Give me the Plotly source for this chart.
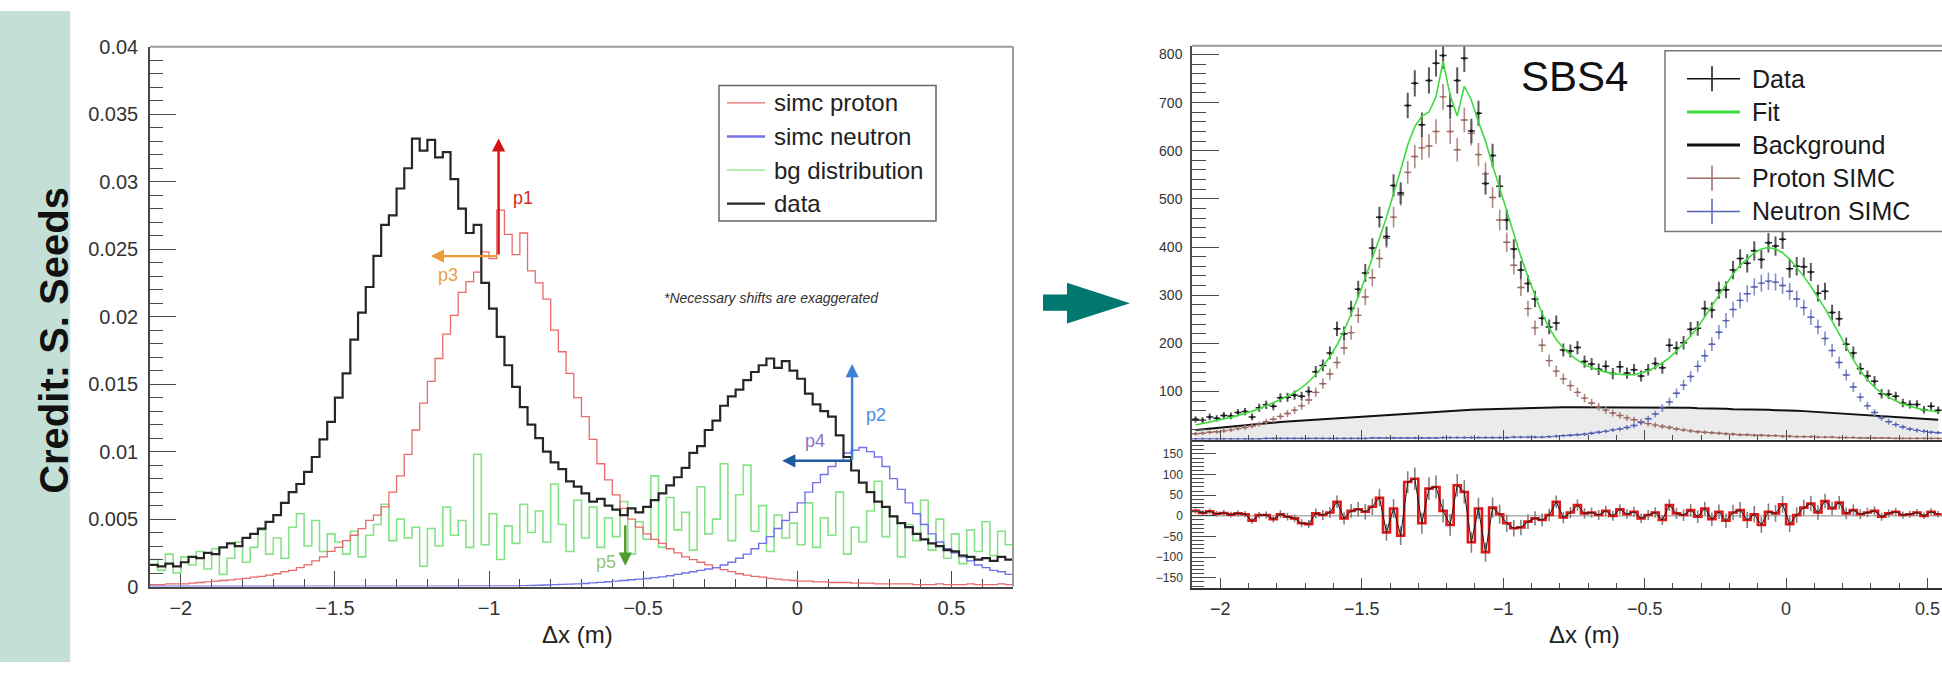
import numpy as np
import plotly.graph_objects as go

W, H = 1942, 673
FONT = "Liberation Sans, Arial, Helvetica, sans-serif"

# ---------------------------------------------------------------------------
# Left panel: simulated proton / neutron shapes, background and data
# (normalised counts, 0.025 m bins starting at -2.1 m)
# ---------------------------------------------------------------------------
LEFT_X0, LEFT_BW = -2.1, 0.025

left_data = [
    0.0016, 0.0015, 0.0017, 0.0015, 0.0018, 0.0022, 0.0021, 0.0025, 0.0024, 0.0029,
    0.0032, 0.0030, 0.0036, 0.0039, 0.0043, 0.0048, 0.0053, 0.0062, 0.0070, 0.0076,
    0.0085, 0.0096, 0.0109, 0.0122, 0.0140, 0.0158, 0.0183, 0.0203, 0.0222, 0.0245,
    0.0268, 0.0275, 0.0295, 0.0310, 0.0332, 0.0323, 0.0331, 0.0318, 0.0322, 0.0302,
    0.0280, 0.0262, 0.0268, 0.0225, 0.0206, 0.0185, 0.0164, 0.0148, 0.0133, 0.0120,
    0.0110, 0.0100, 0.0092, 0.0087, 0.0078, 0.0074, 0.0069, 0.0063, 0.0065, 0.0060,
    0.0057, 0.0053, 0.0058, 0.0055, 0.0059, 0.0064, 0.0069, 0.0075, 0.0081, 0.0088,
    0.0099, 0.0104, 0.0116, 0.0123, 0.0134, 0.0141, 0.0146, 0.0153, 0.0159, 0.0164,
    0.0169, 0.0162, 0.0167, 0.0160, 0.0154, 0.0143, 0.0135, 0.0130, 0.0126, 0.0112,
    0.0096, 0.0086, 0.0077, 0.0070, 0.0063, 0.0059, 0.0052, 0.0047, 0.0044, 0.0039,
    0.0035, 0.0032, 0.0030, 0.0027, 0.0026, 0.0023, 0.0022, 0.0020, 0.0021, 0.0019,
    0.0022, 0.0020,
]

left_simc_p = [
    0.00015, 0.00015, 0.0002, 0.0002, 0.0002, 0.00025, 0.0003, 0.00035, 0.0004, 0.00045,
    0.0005, 0.00055, 0.0006, 0.0007, 0.00075, 0.00085, 0.00095, 0.0011, 0.0012, 0.0014,
    0.0016, 0.0019, 0.0022, 0.0026, 0.0029, 0.0034, 0.0038, 0.0043, 0.0049, 0.0053,
    0.0059, 0.0070, 0.0082, 0.0098, 0.0116, 0.0136, 0.0152, 0.0169, 0.0187, 0.0201,
    0.0218, 0.0226, 0.0233, 0.0248, 0.0243, 0.0279, 0.0261, 0.0246, 0.0262, 0.0234,
    0.0225, 0.0213, 0.0190, 0.0174, 0.0158, 0.0140, 0.0126, 0.0109, 0.0091, 0.0079,
    0.0068, 0.0058, 0.0050, 0.0044, 0.0039, 0.0035, 0.0032, 0.0028, 0.0025, 0.0022,
    0.0020, 0.0018, 0.0016, 0.0014, 0.00125, 0.0011, 0.00095, 0.00085, 0.00075, 0.0007,
    0.0006, 0.00055, 0.0005, 0.00045, 0.0004, 0.0004, 0.00035, 0.00035, 0.0003, 0.0003,
    0.0003, 0.00025, 0.00025, 0.00025, 0.0002, 0.0002, 0.0002, 0.0002, 0.0002, 0.00015,
    0.00015, 0.00015, 0.0002, 0.00015, 0.00015, 0.00015, 0.0002, 0.00015, 0.00015, 0.00015,
    0.0002, 0.00015,
]

left_simc_n = [
    0.00002, 0.00002, 0.00002, 0.00002, 0.00002, 0.00002, 0.00002, 0.00002, 0.00002, 0.00002,
    0.00002, 0.00002, 0.00002, 0.00002, 0.00002, 0.00002, 0.00002, 0.00002, 0.00002, 0.00002,
    0.00003, 0.00003, 0.00003, 0.00003, 0.00003, 0.00003, 0.00003, 0.00003, 0.00003, 0.00003,
    0.00003, 0.00003, 0.00003, 0.00003, 0.00003, 0.00003, 0.00003, 0.00003, 0.00003, 0.00003,
    0.00005, 0.00005, 0.00005, 0.00005, 0.00005, 0.00005, 0.00005, 0.00005,
    0.00007, 0.00008, 0.0001, 0.00012, 0.00014, 0.00016, 0.00018, 0.0002, 0.00023, 0.00027,
    0.00031, 0.00036,
    0.0004, 0.00045, 0.0005, 0.00055, 0.0006, 0.00066, 0.00072, 0.0008, 0.0009, 0.0010,
    0.0011, 0.0012, 0.0013, 0.0014, 0.0016, 0.0018, 0.0021, 0.0024, 0.0028, 0.0032,
    0.0037, 0.0043, 0.0049, 0.0055, 0.0062, 0.0070, 0.0077, 0.0083, 0.0089, 0.0093,
    0.0099, 0.0101, 0.0103, 0.0100, 0.0096, 0.0089, 0.0080, 0.0072, 0.0062, 0.0054,
    0.0046, 0.0039, 0.0033, 0.0028, 0.0025, 0.0022, 0.0019, 0.0016, 0.0014, 0.0012,
    0.0011, 0.0009,
]

left_bg = [
    0.0020, 0.0012, 0.0024, 0.0010, 0.0022, 0.0016, 0.0026, 0.0013, 0.0028, 0.0009,
    0.0021, 0.0033, 0.0018, 0.0029, 0.0042, 0.0024, 0.0036, 0.0021, 0.0044, 0.0054,
    0.0030, 0.0049, 0.0026, 0.0039, 0.0033, 0.0024, 0.0041, 0.0022, 0.0038, 0.0046,
    0.0061, 0.0034, 0.0050, 0.0036, 0.0044, 0.0015, 0.0043, 0.0030, 0.0059, 0.0038,
    0.0049, 0.0029, 0.0098, 0.0031, 0.0054, 0.0020, 0.0045, 0.0032, 0.0061, 0.0040,
    0.0056, 0.0033, 0.0076, 0.0046, 0.0026, 0.0064, 0.0036, 0.0059, 0.0029, 0.0051,
    0.0037, 0.0063, 0.0024, 0.0048, 0.0035, 0.0082, 0.0029, 0.0066, 0.0042, 0.0055,
    0.0027, 0.0074, 0.0039, 0.0050, 0.0091, 0.0034, 0.0068, 0.0090, 0.0041, 0.0060,
    0.0026, 0.0053, 0.0036, 0.0047, 0.0031, 0.0062, 0.0029, 0.0051, 0.0038, 0.0070,
    0.0024, 0.0044, 0.0033, 0.0056, 0.0078, 0.0037, 0.0052, 0.0022, 0.0046, 0.0034,
    0.0064, 0.0027, 0.0050, 0.0021, 0.0039, 0.0017, 0.0042, 0.0026, 0.0048, 0.0023,
    0.0041, 0.0031,
]

# ---------------------------------------------------------------------------
# Right panel: SBS4 fit (counts per 0.025 m bin starting at -2.1 m)
# ---------------------------------------------------------------------------
RIGHT_X0, RIGHT_BW = -2.1, 0.025

sbs4_data = [
    42, 40, 47, 44, 50, 49, 56, 58, 47, 66,
    72, 69, 87, 88, 92, 90, 100, 141, 154, 180,
    230, 220, 272, 312, 346, 398, 462, 422, 528, 512,
    694, 740, 654, 746, 782, 798, 693, 746, 792, 641,
    678, 532, 590, 526, 456, 396, 352, 324, 292, 252,
    234, 242, 186, 184, 191, 162, 157, 146, 152, 137,
    151, 138, 145, 132, 145, 158, 149, 196, 190, 201,
    229, 231, 272, 269, 310, 311, 352, 376, 366, 392,
    374, 409, 402, 416, 355, 360, 359, 348, 304, 308,
    264, 251, 198, 180, 147, 132, 121, 95, 94, 90,
    76, 73, 73, 62, 69, 61,
]

sbs4_fit = [
    30, 33, 36, 39, 43, 46, 50, 54, 59, 64,
    70, 77, 83, 90, 98, 108, 120, 135, 152, 172,
    196, 226, 260, 296, 336, 376, 418, 462, 510, 560,
    612, 650, 672, 680, 712, 786, 715, 672, 734, 705,
    660, 620, 570, 522, 474, 426, 380, 338, 298, 262,
    232, 208, 190, 176, 165, 156, 149, 144, 140, 137,
    135, 134, 135, 138, 143, 150, 159, 170, 184, 199,
    215, 233, 254, 277, 300, 323, 344, 362, 376, 388,
    396, 399, 396, 388, 375, 358, 339, 318, 296, 272,
    246, 219, 192, 166, 143, 124, 109, 97, 88, 80,
    74, 69, 65, 62, 59, 57,
]

sbs4_bg = [
    20, 21.5, 23, 24.5, 26, 27.5, 29, 30.5, 31.5, 33,
    34, 35.5, 36.5, 37.5, 38.5, 39.5, 40.5, 41.5, 42.5, 43.5,
    44.5, 45.5, 46.5, 47.5, 48.5, 49.5, 50.5, 51.5, 52.5, 53.5,
    54.5, 55.5, 56.5, 57.5, 58.5, 59.5, 60.5, 61, 61.5, 62,
    62.5, 63, 63.5, 64, 64.5, 65, 65.5, 66, 66, 66.5,
    66.5, 67, 67, 67, 67, 67, 67, 67, 67, 67,
    67, 67, 67, 67, 67, 67, 67, 67, 66, 66,
    66, 65, 65, 65, 64, 64, 63, 63, 63, 62,
    62, 62, 61, 61, 60, 60, 59, 58, 57, 57,
    56, 55, 54, 53, 52, 51, 50, 49, 48, 47,
    46, 45, 44, 43, 42, 41,
]

sbs4_simc_p = [
    12, 13, 15, 16, 18, 20, 23, 25, 28, 32,
    37, 42, 48, 54, 61, 70, 82, 98, 116, 136,
    160, 190, 222, 258, 296, 336, 376, 418, 462, 508,
    555, 588, 606, 610, 640, 712, 640, 602, 664, 636,
    592, 552, 503, 456, 410, 362, 316, 272, 232, 196,
    164, 142, 126, 112, 98, 86, 76, 68, 61, 55,
    50, 45, 41, 37, 33, 30, 27, 25, 22, 20,
    18, 16, 15, 14, 13, 12, 11, 10, 10, 9,
    9, 8, 8, 7, 7, 6, 6, 6, 5, 5,
    5, 4, 4, 4, 3, 3, 3, 3, 3, 2,
    2, 2, 2, 2, 2, 2,
]

sbs4_simc_n = [
    1, 1, 1, 1, 1, 1, 1, 1, 1, 1,
    2, 2, 2, 2, 2, 2, 2, 2, 2, 2,
    2, 2, 2, 2, 2, 3, 3, 3, 3, 3,
    3, 3, 3, 3, 3, 4, 4, 4, 4, 4,
    4, 4, 4, 4, 4, 5, 5, 5, 5, 5,
    6, 7, 8, 9, 10, 11, 13, 15, 17, 20,
    22, 25, 29, 35, 43, 53, 65, 78, 96, 113,
    131, 152, 174, 198, 223, 247, 270, 289, 303, 317,
    325, 329, 327, 320, 308, 292, 274, 254, 234, 210,
    185, 160, 134, 109, 88, 70, 56, 45, 37, 31,
    26, 22, 19, 17, 15, 14,
]

# axis tick labels
X_TICKS = [-2, -1.5, -1, -0.5, 0, 0.5]
X_TICKTEXT = ["\u22122", "\u22121.5", "\u22121", "\u22120.5", "0", "0.5"]
LEFT_Y_TICKS = [0, 0.005, 0.01, 0.015, 0.02, 0.025, 0.03, 0.035, 0.04]
LEFT_Y_TICKTEXT = ["0", "0.005", "0.01", "0.015", "0.02", "0.025", "0.03", "0.035", "0.04"]
FIT_Y_TICKS = [100, 200, 300, 400, 500, 600, 700, 800]
RES_Y_TICKS = [-150, -100, -50, 0, 50, 100, 150]
RES_Y_TICKTEXT = ["\u2212150", "\u2212100", "\u221250", "0", "50", "100", "150"]

# colours
C_RED = "#e86a6a"
C_BLUE = "#7272e8"
C_GREEN = "#86e286"
C_BLACK = "#262626"
C_FIT = "#3ddc3d"
C_PROTON = "#9a6a64"
C_PROTON_ERR = "#b08a85"
C_NEUTRON = "#5862b4"
C_NEUTRON_ERR = "#858dcc"


def fx(p):
    """pixel column -> paper x"""
    return p / W


def fy(p):
    """pixel row -> paper y"""
    return 1 - p / H


def steps(v):
    return list(v) + [v[-1]]


fig = go.Figure()

# ----- left panel histograms -----
left_edges = LEFT_X0 + LEFT_BW * np.arange(len(left_data) + 1)
for vals, col, wid in [
    (left_bg, C_GREEN, 1.6),
    (left_simc_p, C_RED, 1.3),
    (left_simc_n, C_BLUE, 1.4),
    (left_data, C_BLACK, 2.2),
]:
    fig.add_trace(go.Scatter(
        x=left_edges, y=steps(vals), mode="lines",
        line=dict(color=col, width=wid, shape="hv"),
        xaxis="x", yaxis="y", hoverinfo="skip", showlegend=False,
    ))

# ----- right panel: fit components -----
n_r = len(sbs4_data)
rc = RIGHT_X0 + RIGHT_BW * (np.arange(n_r) + 0.5)
r_edges = RIGHT_X0 + RIGHT_BW * np.arange(n_r + 1)
d_arr = np.array(sbs4_data, dtype=float)
f_arr = np.array(sbs4_fit, dtype=float)
p_arr = np.array(sbs4_simc_p, dtype=float)
n_arr = np.array(sbs4_simc_n, dtype=float)

fig.add_trace(go.Scatter(
    x=rc, y=sbs4_bg, mode="lines", fill="tozeroy", fillcolor="#ebebeb",
    line=dict(color="#111111", width=2), xaxis="x2", yaxis="y2",
    hoverinfo="skip", showlegend=False,
))
for arr, col, ecol in [(p_arr, C_PROTON, C_PROTON_ERR), (n_arr, C_NEUTRON, C_NEUTRON_ERR)]:
    fig.add_trace(go.Scatter(
        x=rc, y=arr, mode="markers",
        marker=dict(size=2.5, color=col),
        error_y=dict(type="data", array=np.sqrt(arr), color=ecol, thickness=1.6, width=0),
        error_x=dict(type="constant", value=RIGHT_BW / 2, color=col, thickness=1.4, width=0),
        xaxis="x2", yaxis="y2", hoverinfo="skip", showlegend=False,
    ))
fig.add_trace(go.Scatter(
    x=rc, y=d_arr, mode="markers",
    marker=dict(size=3, color="#1a1a1a"),
    error_y=dict(type="data", array=np.sqrt(d_arr), color="#5a5a5a", thickness=2, width=0),
    error_x=dict(type="constant", value=RIGHT_BW / 2, color="#2a2a2a", thickness=1.5, width=0),
    xaxis="x2", yaxis="y2", hoverinfo="skip", showlegend=False,
))
fig.add_trace(go.Scatter(
    x=rc, y=f_arr, mode="lines", line=dict(color=C_FIT, width=1.6),
    xaxis="x2", yaxis="y2", hoverinfo="skip", showlegend=False,
))

# ----- right panel: residuals (data - fit) -----
res = d_arr - f_arr
fig.add_trace(go.Scatter(
    x=rc, y=res, mode="markers", marker=dict(size=1, color="#555555"),
    error_y=dict(type="data", array=np.sqrt(d_arr), color="#808080", thickness=1.6, width=0),
    xaxis="x3", yaxis="y3", hoverinfo="skip", showlegend=False,
))
fig.add_trace(go.Scatter(
    x=r_edges, y=steps(res), mode="lines",
    line=dict(color="#e01818", width=2.6, shape="hv"),
    xaxis="x3", yaxis="y3", hoverinfo="skip", showlegend=False,
))
fig.add_trace(go.Scatter(
    x=rc, y=res, mode="lines", line=dict(color="#1a1a1a", width=1),
    xaxis="x3", yaxis="y3", hoverinfo="skip", showlegend=False,
))

# ----- axes -----
base_axis = dict(
    showgrid=False, zeroline=False, ticks="inside", showline=True,
    linecolor="#4a4a4a", linewidth=1.5, tickcolor="#4a4a4a", tickwidth=1.2,
)
X_RIGHT_RANGE = [-2.1, 0.551]

fig.update_layout(
    width=W, height=H,
    margin=dict(l=0, r=0, t=0, b=0),
    paper_bgcolor="white", plot_bgcolor="white",
    font=dict(family=FONT, color="#222"),
    xaxis=dict(
        base_axis, domain=[fx(150), fx(1013)], range=[-2.1, 0.7], anchor="y",
        tickvals=X_TICKS, ticktext=X_TICKTEXT, ticklen=16,
        minor=dict(tickmode="linear", tick0=0, dtick=0.1, ticklen=8, ticks="inside", tickcolor="#4a4a4a"),
        tickfont=dict(size=20, color="#333"), ticklabelstandoff=3, layer="below traces",
    ),
    yaxis=dict(
        base_axis, domain=[fy(595), fy(37)], range=[0, 0.04], anchor="x",
        tickvals=LEFT_Y_TICKS, ticktext=LEFT_Y_TICKTEXT, ticklen=26,
        minor=dict(tickmode="linear", tick0=0, dtick=0.001, ticklen=13, ticks="inside", tickcolor="#4a4a4a"),
        tickfont=dict(size=20, color="#333"), ticklabelstandoff=6,
    ),
    xaxis2=dict(
        base_axis, domain=[fx(1192), 1.0], range=X_RIGHT_RANGE, anchor="y2",
        tickvals=X_TICKS, showticklabels=False, ticklen=10, linewidth=2, linecolor="#333",
        minor=dict(tickmode="linear", tick0=0, dtick=0.1, ticklen=5, ticks="inside", tickcolor="#4a4a4a"),
    ),
    yaxis2=dict(
        base_axis, domain=[fy(443), fy(36)], range=[0, 818], anchor="x2",
        tickvals=FIT_Y_TICKS, ticklen=27,
        minor=dict(tickmode="linear", tick0=0, dtick=20, ticklen=14, ticks="inside", tickcolor="#4a4a4a"),
        tickfont=dict(size=14, color="#333"), ticklabelstandoff=5,
    ),
    xaxis3=dict(
        base_axis, domain=[fx(1192), 1.0], range=X_RIGHT_RANGE, anchor="y3",
        tickvals=X_TICKS, ticktext=X_TICKTEXT, ticklen=10, linewidth=2, linecolor="#333",
        minor=dict(tickmode="linear", tick0=0, dtick=0.1, ticklen=5, ticks="inside", tickcolor="#4a4a4a"),
        tickfont=dict(size=18, color="#333"), ticklabelstandoff=3,
    ),
    yaxis3=dict(
        base_axis, domain=[fy(597), fy(443)], range=[-176, 185], anchor="x3",
        tickvals=RES_Y_TICKS, ticktext=RES_Y_TICKTEXT, ticklen=24,
        minor=dict(tickmode="linear", tick0=0, dtick=10, ticklen=12, ticks="inside", tickcolor="#4a4a4a"),
        tickfont=dict(size=12, color="#333"), ticklabelstandoff=5,
    ),
)

shapes = []
annots = []

# sidebar strip on the slide
shapes.append(dict(type="rect", xref="paper", yref="paper", x0=0, x1=fx(69), y0=0, y1=1,
                   fillcolor="#c4e0d6", line=dict(width=0), layer="below"))
shapes.append(dict(type="line", xref="paper", yref="paper", x0=fx(69.5), x1=fx(69.5), y0=0, y1=1,
                   line=dict(color="#cfdcf0", width=1.5), layer="below"))
annots.append(dict(xref="paper", yref="paper", x=fx(54), y=fy(341), text="<b>Credit: S. Seeds</b>",
                   textangle=-90, showarrow=False, font=dict(size=40, color="#111", family=FONT),
                   xanchor="center", yanchor="middle"))

# frame edges (top / right) drawn lighter
shapes.append(dict(type="line", xref="paper", yref="paper", x0=fx(150), x1=fx(1013), y0=fy(37), y1=fy(37),
                   line=dict(color="#9a9a9a", width=2)))
shapes.append(dict(type="line", xref="paper", yref="paper", x0=fx(1013), x1=fx(1013), y0=fy(37), y1=fy(595),
                   line=dict(color="#9a9a9a", width=2)))
shapes.append(dict(type="line", xref="paper", yref="paper", x0=fx(1192), x1=1.0, y0=fy(36), y1=fy(36),
                   line=dict(color="#9a9a9a", width=2)))
# residual zero line
shapes.append(dict(type="line", xref="x3", yref="y3", x0=X_RIGHT_RANGE[0], x1=X_RIGHT_RANGE[1], y0=0, y1=0,
                   line=dict(color="#8a8a8a", width=1), layer="below"))

# teal arrow between the panels
pts = [(1043, 293), (1067, 293), (1067, 281), (1130, 302), (1067, 323), (1067, 310), (1043, 310)]
path = "M " + " L ".join(f"{fx(a):.5f},{fy(b):.5f}" for a, b in pts) + " Z"
shapes.append(dict(type="path", xref="paper", yref="paper", path=path,
                   fillcolor="#00786f", line=dict(width=0)))

# axis titles
for cx in (577, 1584):
    annots.append(dict(xref="paper", yref="paper", x=fx(cx), y=fy(645), text="\u0394x (m)",
                       showarrow=False, font=dict(size=24, color="#222"), xanchor="center", yanchor="middle"))

# left legend
shapes.append(dict(type="rect", xref="paper", yref="paper", x0=fx(719), x1=fx(936), y0=fy(217), y1=fy(77),
                   fillcolor="white", line=dict(color="#666", width=1.5)))
left_legend = [("simc proton", C_RED, 1.3), ("simc neutron", C_BLUE, 2.5),
               ("bg distribution", C_GREEN, 1.3), ("data", C_BLACK, 2.2)]
for i, (lab, col, wid) in enumerate(left_legend):
    yy = 95 + i * 34.7
    shapes.append(dict(type="line", xref="paper", yref="paper", x0=fx(727), x1=fx(765), y0=fy(yy), y1=fy(yy),
                       line=dict(color=col, width=wid)))
    annots.append(dict(xref="paper", yref="paper", x=fx(772), y=fy(yy), text=lab, showarrow=False,
                       font=dict(size=24, color="#222"), xanchor="left", yanchor="middle"))

annots.append(dict(x=-0.084, y=0.0214, xref="x", yref="y", text="<i>*Necessary shifts are exaggerated</i>",
                   showarrow=False, font=dict(size=14, color="#333"), xanchor="center", yanchor="middle"))

# shift arrows on the left panel (tail -> head, data coordinates)
shift_arrows = [
    ((-0.969, 0.02449), (-0.969, 0.03321), "#d41414"),
    ((-0.969, 0.02449), (-1.189, 0.02449), "#ee9a3a"),
    ((0.178, 0.00932), (0.178, 0.01649), "#3b7fd8"),
    ((0.178, 0.00932), (-0.049, 0.00932), "#1d5a9e"),
    ((-0.558, 0.00466), (-0.558, 0.00155), "#4e9a2c"),
]
for (tx, ty), (hx, hy), col in shift_arrows:
    annots.append(dict(x=hx, y=hy, ax=tx, ay=ty, xref="x", yref="y", axref="x", ayref="y",
                       text="", showarrow=True, arrowhead=2, arrowsize=1.1, arrowwidth=2.4,
                       arrowcolor=col, standoff=0, startstandoff=0))
shift_labels = [
    ("p1", -0.891, 0.0288, "#d42a2a"),
    ("p3", -1.133, 0.02306, "#eea040"),
    ("p2", 0.255, 0.01274, "#4a8ae0"),
    ("p4", 0.056, 0.01075, "#8a70c4"),
    ("p5", -0.622, 0.00179, "#92c47a"),
]
for lab, lx, ly, col in shift_labels:
    annots.append(dict(x=lx, y=ly, xref="x", yref="y", text=lab, showarrow=False,
                       font=dict(size=18, color=col), xanchor="center", yanchor="middle"))

# right legend (box runs off the right edge of the slide)
shapes.append(dict(type="rect", xref="paper", yref="paper", x0=fx(1665), x1=1.03, y0=fy(228), y1=fy(41),
                   fillcolor="white", line=dict(color="#777", width=1.5)))
right_legend = [("Data", "#111111", "cross"), ("Fit", C_FIT, "line"), ("Background", "#111111", "line"),
                ("Proton SIMC", C_PROTON, "cross"), ("Neutron SIMC", C_NEUTRON, "cross")]
for i, (lab, col, kind) in enumerate(right_legend):
    yy = 70 + i * 34.3
    wid = 3 if kind == "line" else 1.5
    shapes.append(dict(type="line", xref="paper", yref="paper", x0=fx(1687), x1=fx(1740), y0=fy(yy), y1=fy(yy),
                       line=dict(color=col, width=wid)))
    if kind == "cross":
        shapes.append(dict(type="line", xref="paper", yref="paper", x0=fx(1712), x1=fx(1712),
                           y0=fy(yy - 13), y1=fy(yy + 13), line=dict(color=col, width=1.5)))
    annots.append(dict(xref="paper", yref="paper", x=fx(1750), y=fy(yy), text=lab, showarrow=False,
                       font=dict(size=25, color="#1a1a1a"), xanchor="left", yanchor="middle"))

annots.append(dict(xref="paper", yref="paper", x=fx(1574), y=fy(68), text="SBS4", showarrow=False,
                   font=dict(size=42, color="#111"), xanchor="center", yanchor="middle"))

fig.update_layout(shapes=shapes, annotations=annots)
fig.write_html("out.html")
